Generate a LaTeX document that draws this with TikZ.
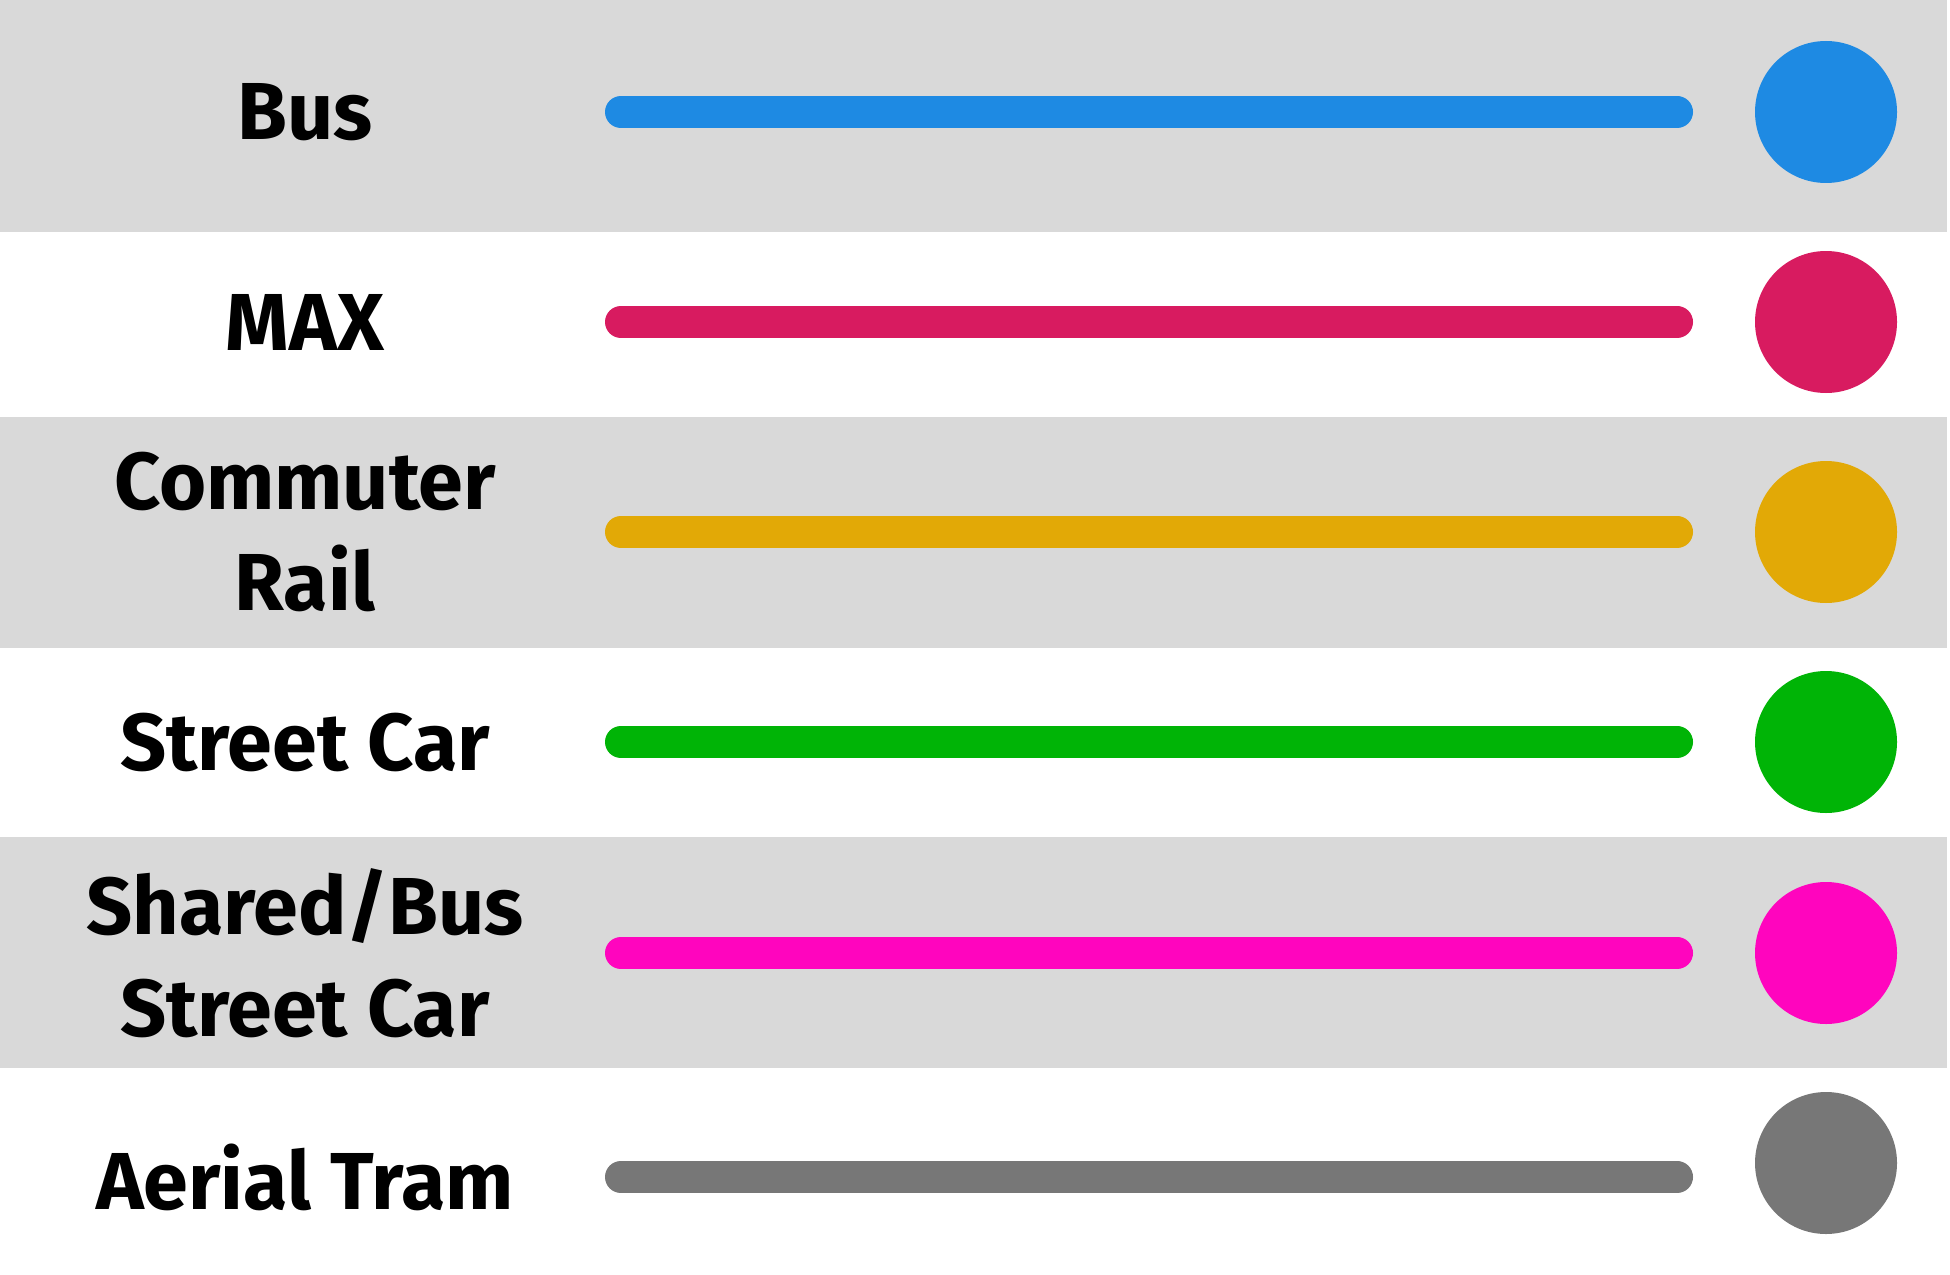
\documentclass[tikz,border=0pt]{standalone}
\usepackage{fontspec}
\setmainfont{Fira Sans}
\usetikzlibrary{positioning}
\definecolor{bandgray}{HTML}{D9D9D9}
\definecolor{busblue}{HTML}{1E8AE3}
\definecolor{maxred}{HTML}{D81B60}
\definecolor{railgold}{HTML}{E2A906}
\definecolor{cargreen}{HTML}{00B406}
\definecolor{sharedpink}{HTML}{FF05BE}
\definecolor{tramgray}{HTML}{777777}
\tikzset{band/.style={fill=bandgray},mode/.style={font=\fontsize{23}{29}\selectfont\bfseries,align=center,inner sep=0pt},
  route/.style={line width=3.2mm,line cap=round},stop/.style={circle,minimum size=14.2mm,inner sep=0pt}}
\begin{document}
\begin{tikzpicture}[x=0.1mm,y=-0.1mm]
\useasboundingbox (0,0) rectangle (1950,1275);\fill[white] (0,0) rectangle (1950,1275);
% bandes grises une ligne sur deux
\fill[band] (0,0) rectangle (1947,232);\fill[band] (0,417) rectangle (1947,648);\fill[band] (0,837) rectangle (1947,1068);
\foreach \id/\txt/\col/\yl/\yc in {bus/Bus/busblue/112/112,max/MAX/maxred/322/322,rail/{Commuter\\Rail}/railgold/532/532,
  car/Street Car/cargreen/742/742,shared/{Shared/Bus\\Street Car}/sharedpink/953/953,tram/Aerial Tram/tramgray/1177/1163}{
  \node[mode] (t\id) at (305,\yl) {\txt};\coordinate (a\id) at (621,\yl);\coordinate (b\id) at (1677,\yl);
  \draw[route,\col] (a\id)--(b\id);\node[stop,fill=\col] (c\id) at (1826,\yc) {};}
\end{tikzpicture}
\end{document}
